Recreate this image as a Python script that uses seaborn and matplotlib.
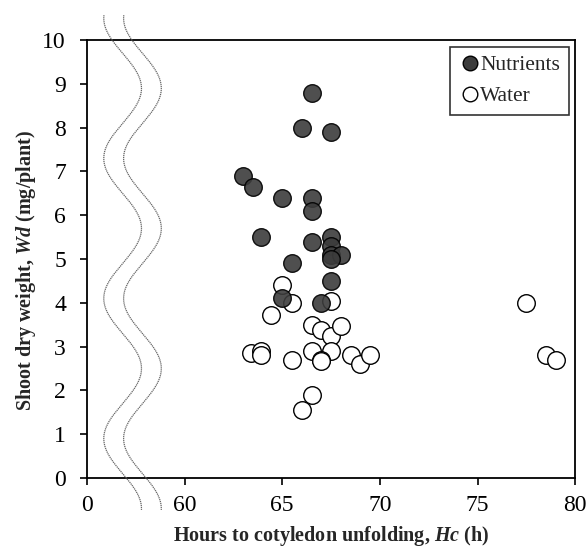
import numpy as np
import pandas as pd
import matplotlib
matplotlib.use("Agg")
import matplotlib.pyplot as plt
import seaborn as sns
from matplotlib.lines import Line2D

sns.set_style("ticks")
plt.rcParams['font.family'] = ['Liberation Serif', 'DejaVu Serif']
plt.rcParams['mathtext.fontset'] = 'custom'
plt.rcParams['mathtext.bfit'] = 'Liberation Serif:italic:bold'
plt.rcParams['mathtext.it'] = 'Liberation Serif:italic'
plt.rcParams['mathtext.rm'] = 'Liberation Serif'

# hours to cotyledon unfolding (h) vs shoot dry weight (mg/plant)
nutrients_x = [63.0, 63.5, 65.0, 63.9, 65.5, 66.5, 66.0, 67.5, 66.5, 66.5,
               67.5, 67.5, 66.5, 67.5, 68.0, 67.5, 67.5, 67.0, 65.0]
nutrients_y = [6.9, 6.65, 6.4, 5.5, 4.9, 8.8, 8.0, 7.9, 6.4, 6.1,
               5.5, 5.3, 5.4, 5.1, 5.1, 5.0, 4.5, 4.0, 4.12]

water_x = [65.0, 65.5, 67.5, 64.4, 66.5, 67.0, 67.5, 68.0, 63.4, 63.9,
           63.9, 65.5, 66.5, 67.5, 67.0, 67.0, 68.5, 69.0, 69.5, 66.5,
           66.0, 77.5, 78.5, 79.0]
water_y = [4.4, 4.0, 4.05, 3.72, 3.5, 3.38, 3.25, 3.47, 2.85, 2.9,
           2.8, 2.7, 2.9, 2.9, 2.7, 2.67, 2.8, 2.6, 2.8, 1.9,
           1.55, 4.0, 2.8, 2.7]

x_ticks = [55, 60, 65, 70, 75, 80]
x_ticklabels = ["0", "60", "65", "70", "75", "80"]

df = pd.DataFrame({
    "Hc": nutrients_x + water_x,
    "Wd": nutrients_y + water_y,
    "Treatment": ["Nutrients"] * len(nutrients_x) + ["Water"] * len(water_x),
})

fig = plt.figure(figsize=(5.87, 5.5), dpi=100)
ax = fig.add_axes([0.148, 0.131, 0.832, 0.796])

palette = {"Nutrients": "#3c3c3c", "Water": "white"}
for name, alpha in [("Water", 1.0), ("Nutrients", 0.9)]:
    sub = df[df["Treatment"] == name]
    sns.scatterplot(data=sub, x="Hc", y="Wd", color=palette[name], s=160,
                    edgecolor="black", linewidth=1.0, alpha=alpha, ax=ax,
                    legend=False, zorder=3)

ax.set_xlim(55, 80)
ax.set_ylim(0, 10)
ax.set_xticks(x_ticks)
ax.set_xticklabels(x_ticklabels)
ax.set_yticks(range(0, 11))
ax.tick_params(direction="out", length=5, width=1.2, labelsize=17, colors="black")
ax.tick_params(axis="x", pad=7)
ax.tick_params(axis="y", pad=10)
for sp in ax.spines.values():
    sp.set_linewidth(1.3)
    sp.set_color("black")

ax.set_xlabel(r"Hours to cotyledon unfolding, $\mathbfit{Hc}$ (h)", fontsize=14.5,
              fontweight="bold", labelpad=6)
ax.set_ylabel(r"Shoot dry weight, $\mathbfit{Wd}$ (mg/plant)", fontsize=14.5,
              fontweight="bold")
ax.yaxis.set_label_coords(-0.10, 0.475)

# axis break symbol (two dotted wavy lines)
yy = np.linspace(10.57, -0.73, 400)
xx = 56.83 + 0.965 * np.cos(2 * np.pi * (yy - 8.9) / 3.2)
for off in [0.0, 1.015]:
    ax.plot(xx + off, yy, color="#666666", linestyle=(0, (1, 0.6)), linewidth=0.9,
            clip_on=False, zorder=4)

handles = [
    Line2D([], [], marker="o", linestyle="", markersize=10.5, markerfacecolor="#3c3c3c",
           markeredgecolor="black", label="Nutrients"),
    Line2D([], [], marker="o", linestyle="", markersize=10.5, markerfacecolor="white",
           markeredgecolor="black", label="Water"),
]
leg = ax.legend(handles=handles, loc="upper right", fontsize=15.5, frameon=True,
                fancybox=False, handletextpad=0.0, handlelength=1.0,
                borderpad=0.4, labelspacing=0.5, borderaxespad=0.3)
leg.get_frame().set_edgecolor("black")
leg.get_frame().set_linewidth(1.2)

fig.savefig("out.png", dpi=100)
